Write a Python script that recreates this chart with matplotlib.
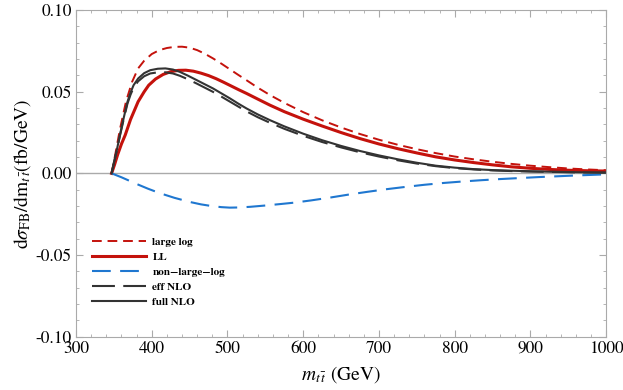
import matplotlib
matplotlib.use("Agg")
import matplotlib.pyplot as plt
from matplotlib.ticker import MultipleLocator, FormatStrFormatter

# valores (m_tt en GeV, dsigma/dm en fb/GeV)
m_large = [347, 352, 358, 366, 374, 382, 390, 400, 410, 420, 430, 440, 450, 460, 470,
           481, 492, 503, 514, 525, 540, 556, 575, 600, 625, 650, 675, 700, 725, 750,
           775, 800, 825, 850, 875, 900, 925, 950, 975, 1000]
large_log = [0.0, 0.012, 0.027, 0.044, 0.056, 0.0643, 0.069, 0.0731, 0.0755, 0.0768,
             0.0775, 0.0776, 0.0770, 0.0755, 0.0733, 0.0704, 0.0672, 0.0638, 0.0604,
             0.0571, 0.0525, 0.048, 0.0432, 0.0375, 0.0325, 0.0281, 0.0241, 0.0206,
             0.0175, 0.0148, 0.0124, 0.0103, 0.0086, 0.0071, 0.0058, 0.0047, 0.0038,
             0.0030, 0.0024, 0.0019]

m_ll = [347, 351, 355, 360, 365, 372, 382, 390, 396, 405, 415, 425, 435, 445, 455, 465,
        475, 485, 495, 505, 515, 525, 540, 556, 575, 600, 625, 650, 675, 700, 725, 750,
        775, 800, 825, 850, 875, 900, 925, 950, 975, 1000]
ll = [0.0, 0.0055, 0.0115, 0.018, 0.0235, 0.033, 0.0439, 0.050, 0.054, 0.0578, 0.0606,
      0.0623, 0.0631, 0.0632, 0.0626, 0.0614, 0.0599, 0.058, 0.0558, 0.0535, 0.0512,
      0.049, 0.0455, 0.0418, 0.0378, 0.0332, 0.029, 0.025, 0.0213, 0.018, 0.0151,
      0.0125, 0.0101, 0.0082, 0.0066, 0.0052, 0.004, 0.0031, 0.0024, 0.0019, 0.0016,
      0.0014]

m_nll = [347, 360, 380, 395, 411, 430, 450, 465, 480, 492, 503, 515, 530, 550, 570, 587,
         610, 636, 660, 685, 710, 735, 760, 785, 810, 835, 860, 885, 910, 935, 960, 1000]
non_large_log = [0.0, -0.0024, -0.0065, -0.0094, -0.0122, -0.015, -0.0175, -0.019,
                 -0.0201, -0.0207, -0.021, -0.0209, -0.0205, -0.0197, -0.0188, -0.018,
                 -0.0166, -0.0148, -0.013, -0.0113, -0.0097, -0.0083, -0.007, -0.0059,
                 -0.005, -0.0042, -0.0035, -0.0029, -0.0023, -0.0018, -0.0013, -0.0006]

m_nlo = [347, 350, 354, 358, 363, 368, 372, 376, 382, 390, 398, 408, 418, 428, 437, 448,
         459, 470, 481, 492, 503, 514, 525, 540, 556, 575, 600, 625, 650, 675, 700, 725,
         750, 775, 800, 825, 850, 875, 900, 925, 950, 975, 1000]
full_nlo = [0.0, 0.0065, 0.0145, 0.0235, 0.034, 0.0439, 0.0495, 0.054, 0.0581, 0.0614,
            0.0632, 0.0641, 0.0643, 0.0636, 0.0622, 0.0598, 0.0572, 0.0546, 0.052, 0.049,
            0.046, 0.0428, 0.0398, 0.0361, 0.0326, 0.0288, 0.0243, 0.0203, 0.0168,
            0.0137, 0.011, 0.0086, 0.0065, 0.0047, 0.0035, 0.0026, 0.002, 0.0016,
            0.0013, 0.001, 0.0008, 0.0006, 0.0005]
eff_nlo = [0.0, 0.0064, 0.0142, 0.023, 0.0332, 0.0428, 0.0482, 0.0525, 0.0564, 0.0595,
           0.0612, 0.0619, 0.0619, 0.0612, 0.0598, 0.0576, 0.0551, 0.0525, 0.0499,
           0.047, 0.044, 0.041, 0.038, 0.0344, 0.031, 0.0273, 0.023, 0.0192, 0.0159,
           0.0129, 0.0103, 0.008, 0.006, 0.0044, 0.0032, 0.0024, 0.0018, 0.0014,
           0.0011, 0.0009, 0.0007, 0.0005, 0.0004]

plt.rcParams['font.family'] = ['STIXGeneral', 'DejaVu Serif']
plt.rcParams['mathtext.fontset'] = 'stix'

fig = plt.figure(figsize=(6.23, 3.90), dpi=100)
ax = fig.add_axes([0.122, 0.137, 0.851, 0.837])

rojo = '#c4120c'
azul = '#1f77d0'
negro = '#333333'

ax.axhline(0, color='#aaaaaa', lw=1.0, zorder=1)
ax.plot(m_large, large_log, color=rojo, lw=1.4, dashes=(5, 3), label='large log')
ax.plot(m_ll, ll, color=rojo, lw=2.2, label='LL')
ax.plot(m_nll, non_large_log, color=azul, lw=1.5, dashes=(9, 4.5), label='non\u2212large\u2212log')
ax.plot(m_nlo, eff_nlo, color=negro, lw=1.5, dashes=(11, 4), label='eff NLO')
ax.plot(m_nlo, full_nlo, color=negro, lw=1.5, label='full NLO')

ax.set_xlim(300, 1000)
ax.set_ylim(-0.10, 0.10)
ax.xaxis.set_major_locator(MultipleLocator(100))
ax.xaxis.set_minor_locator(MultipleLocator(20))
ax.yaxis.set_major_locator(MultipleLocator(0.05))
ax.yaxis.set_minor_locator(MultipleLocator(0.01))
ax.yaxis.set_major_formatter(FormatStrFormatter('%.2f'))

for s in ax.spines.values():
    s.set_color('#aaaaaa')
ax.tick_params(which='both', direction='in', top=True, right=True, color='#aaaaaa',
               labelsize=12.5, pad=3)
ax.tick_params(which='major', length=5)
ax.tick_params(which='minor', length=2.5)

ax.set_xlabel(r'$m_{t\,\bar{t}}$ (GeV)', fontsize=14, labelpad=5)
ax.set_ylabel(r'$\mathrm{d}\sigma_{\mathrm{FB}}/\mathrm{dm}_{t\,\bar{t}}(\mathrm{fb/GeV})$',
              fontsize=14, labelpad=2)

leg = ax.legend(loc='lower left', frameon=False, prop={'weight': 'bold', 'size': 8},
                handlelength=4.8, handletextpad=0.6, labelspacing=0.48,
                bbox_to_anchor=(0.012, 0.06))

fig.savefig('out.png', dpi=100)
